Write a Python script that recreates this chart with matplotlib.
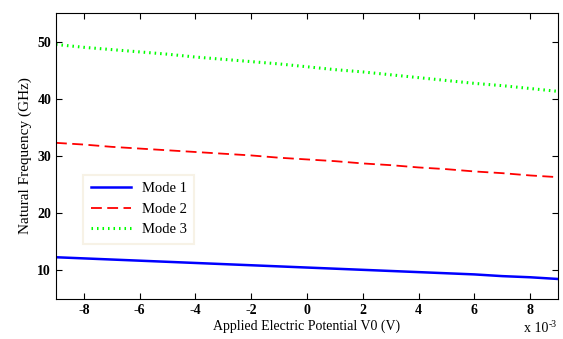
import matplotlib
matplotlib.use("Agg")
import matplotlib.pyplot as plt
import numpy as np

# Applied potential (x 10^-3 V)
potential = np.arange(-9, 10, 1)

# Natural frequency (GHz)
mode1 = [12.3, 12.1, 11.9, 11.7, 11.5, 11.3, 11.1, 10.9, 10.7, 10.5,
         10.3, 10.1, 9.9, 9.7, 9.5, 9.3, 9.0, 8.8, 8.5]
mode2 = [32.3, 32.0, 31.6, 31.3, 31.0, 30.7, 30.4, 30.1, 29.7, 29.4,
         29.1, 28.7, 28.4, 28.0, 27.7, 27.3, 27.0, 26.6, 26.3]
mode3 = [49.5, 49.0, 48.6, 48.2, 47.8, 47.3, 46.9, 46.5, 46.1, 45.6,
         45.1, 44.7, 44.2, 43.7, 43.2, 42.7, 42.3, 41.8, 41.3]

plt.rcParams['font.family'] = ['Liberation Serif', 'DejaVu Serif']
plt.rcParams['axes.unicode_minus'] = False

fig = plt.figure(figsize=(5.63, 3.39), dpi=100)
ax = fig.add_axes([56 / 563, 40 / 339, 502 / 563, 286 / 339])

ax.plot(potential, mode1, color='#0000ff', lw=1.8, label='Mode 1')
ax.plot(potential, mode2, color='#ff0000', lw=1.3, linestyle=(0, (6, 3)), label='Mode 2')
ax.plot(potential, mode3, color='#00ff00', lw=2.2, linestyle=(0, (0.5, 1.3)), label='Mode 3')

ax.set_xlim(-9, 9)
ax.set_ylim(5, 55)
ax.set_xticks([-8, -6, -4, -2, 0, 2, 4, 6, 8])
ax.set_yticks([10, 20, 30, 40, 50])
ax.tick_params(direction='in', top=True, right=True, labelsize=10, length=4, width=0.8)
for lbl in ax.get_xticklabels() + ax.get_yticklabels():
    lbl.set_fontweight('bold')

ax.set_xlabel('Applied Electric Potential V0 (V)', fontsize=10, labelpad=2)
ax.set_ylabel('Natural Frequency (GHz)', fontsize=11, labelpad=4)

# scale factor note under the right end of the x axis
ax.annotate('x 10', xy=(1.0, 0), xycoords='axes fraction', xytext=(-10, -36),
            textcoords='offset pixels', ha='right', va='bottom', fontsize=10)
ax.annotate('-3', xy=(1.0, 0), xycoords='axes fraction', xytext=(-9, -30),
            textcoords='offset pixels', ha='left', va='bottom', fontsize=7)

leg = ax.legend(loc='lower left', bbox_to_anchor=(0.04, 0.168), fontsize=10.5,
                frameon=True, fancybox=False, handlelength=2.8, borderpad=0.5,
                labelspacing=0.5, handletextpad=0.7)
leg.get_frame().set_edgecolor('#f5efe0')
leg.get_frame().set_linewidth(1.5)

fig.savefig('out.png', dpi=100)
